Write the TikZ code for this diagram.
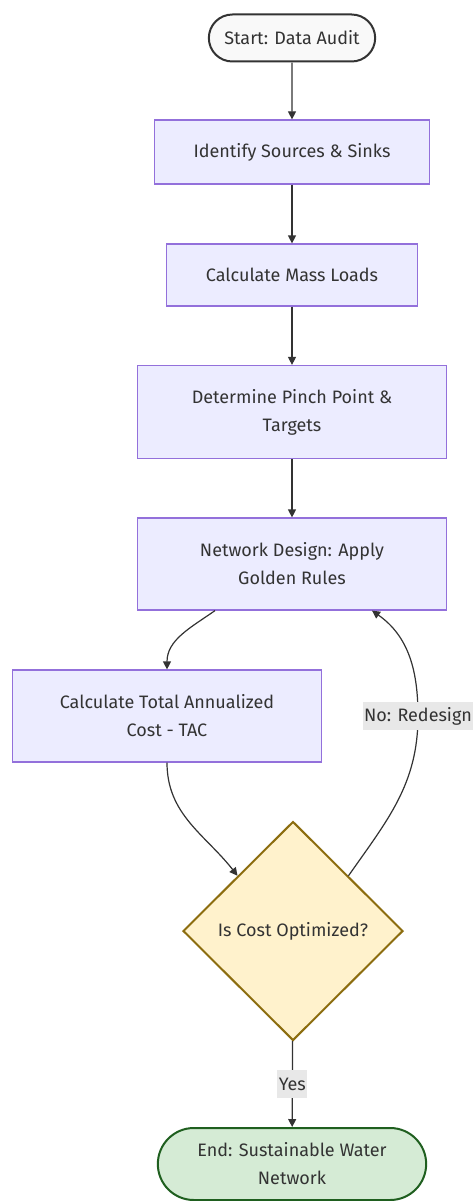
\documentclass[tikz,border=0pt]{standalone}
\usepackage{fontspec}
\setmainfont{Fira Sans}
\usetikzlibrary{arrows.meta,positioning,shapes.geometric,shapes.misc}
\definecolor{StepFill}{HTML}{ECECFF}
\definecolor{StepLine}{HTML}{9370DB}
\definecolor{Ink}{HTML}{333333}
\definecolor{StartFill}{HTML}{F9F9F9}
\definecolor{AskFill}{HTML}{FFF2CC}
\definecolor{AskLine}{HTML}{8C6D0F}
\definecolor{EndFill}{HTML}{D5EBD5}
\definecolor{EndLine}{HTML}{1F5F1F}
\definecolor{LabelBack}{HTML}{E8E8E8}
\tikzset{>={Triangle[length=8pt,width=8pt]},every node/.style={font=\fontsize{18}{28}\selectfont,text=Ink},
 stepbox/.style={draw=StepLine,fill=StepFill,line width=1.2pt,align=center},
 term/.style={rounded rectangle,line width=2pt,align=center},
 ask/.style={diamond,draw=AskLine,fill=AskFill,line width=2pt,inner sep=0pt},
 lbl/.style={fill=LabelBack,inner xsep=1.5pt,minimum height=28pt},
 flow/.style={draw=Ink,line width=1.2pt,->}}
\begin{document}
\begin{tikzpicture}[x=1pt,y=-1pt]
\useasboundingbox[fill=white] (0,0) rectangle (473,1201);
% main column
\node[term,draw=Ink,fill=StartFill,minimum width=173pt,minimum height=47pt] (start) at (292,38) {Start: Data Audit};
\node[stepbox,minimum width=275pt,minimum height=64pt] (ident) at (292,152) {Identify Sources \& Sinks};
\node[stepbox,minimum width=251pt,minimum height=62pt] (mass) at (292,275) {Calculate Mass Loads};
\node[stepbox,minimum width=309pt,minimum height=93pt] (pinch) at (292,412) {Determine Pinch Point \&\\Targets};
\node[stepbox,minimum width=309pt,minimum height=92pt] (net) at (292,564) {Network Design: Apply\\Golden Rules};
\node[stepbox,minimum width=309pt,minimum height=92pt] (tac) at (167,716) {Calculate Total Annualized\\Cost - TAC};
\node[ask,minimum width=220pt,minimum height=219pt] (cost) at (293,931) {Is Cost Optimized?};
\node[term,draw=EndLine,fill=EndFill,minimum width=275pt,minimum height=72pt] (end) at (292,1164) {End: Sustainable Water\\Network};
\coordinate (back) at (418,716);
% connectors
\draw[flow] (start) -- (ident);
\draw[flow] (ident) -- (mass);
\draw[flow] (mass) -- (pinch);
\draw[flow] (pinch) -- (net);
\draw[flow] ([xshift=-77pt]net.south) to[out=-145,in=90] (tac.north);
\draw[flow] (tac.south) to[out=-90,in=128] (cost.north west);
\draw[flow] (cost.north east) to[out=55,in=-90] (back) to[out=90,in=-35] ([xshift=80pt]net.south);
\node[lbl] at (back) {No: Redesign};
\draw[flow] (cost) -- node[lbl]{Yes} (end);
\end{tikzpicture}
\end{document}
